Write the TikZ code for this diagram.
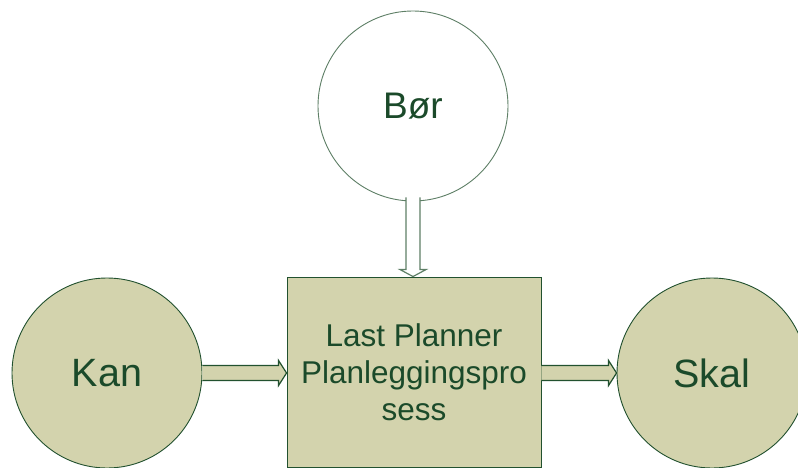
\documentclass[tikz,border=0pt]{standalone}
\usepackage{fontspec}
\setmainfont{Liberation Sans}
\usetikzlibrary{calc}
\definecolor{olivefill}{HTML}{D3D3AD}
\definecolor{darkgreen}{HTML}{22512F}
\definecolor{textgreen}{HTML}{1B4A2A}
\definecolor{greyline}{HTML}{5E7F66}
\tikzset{
  bubble/.style={circle, draw=darkgreen, line width=0.9pt, fill=olivefill, minimum size=190pt, inner sep=0pt, text=textgreen, font=\fontsize{39.5}{44}\selectfont},
  topbubble/.style={circle, draw=greyline, line width=0.9pt, fill=white, minimum size=190pt, inner sep=0pt, text=textgreen, font=\fontsize{37}{40}\selectfont},
  procbox/.style={rectangle, draw=darkgreen, line width=0.9pt, fill=olivefill, minimum width=254pt, minimum height=190pt, inner sep=0pt, align=center, text=textgreen, font=\fontsize{31.5}{37}\selectfont},
  fatarrow/.style={draw=darkgreen, line width=1.2pt, fill=olivefill, line join=miter},
  whitearrow/.style={draw=greyline, line width=1.2pt, fill=white, line join=miter}
}
\begin{document}
\begin{tikzpicture}[x=1pt, y=-1pt]
\useasboundingbox (0,0) rectangle (798,468);
\clip (0,0) rectangle (798,468);
\node[topbubble] (bor) at (413,106) {Bør};
\node[bubble] (kan) at (107,373) {Kan};
\node[bubble] (skal) at (712,373) {Skal};
\node[procbox] (box) at (414,372) {Last Planner\\Planleggingspro\\sess};
% left arrow Kan -> box
\draw[fatarrow] ($(kan.east)+(0,-7.5)$) -- ($(box.west|-kan.east)+(-8,-7.5)$) -- ($(box.west|-kan.east)+(-8,-12.5)$)
  -- (box.west|-kan.east) -- ($(box.west|-kan.east)+(-8,12.5)$) -- ($(box.west|-kan.east)+(-8,7.5)$)
  -- ($(kan.east)+(0,7.5)$);
% right arrow box -> Skal
\draw[fatarrow] ($(box.east|-skal.west)+(0,-7.5)$) -- ($(skal.west)+(-8,-7.5)$) -- ($(skal.west)+(-8,-12.5)$)
  -- (skal.west) -- ($(skal.west)+(-8,12.5)$) -- ($(skal.west)+(-8,7.5)$)
  -- ($(box.east|-skal.west)+(0,7.5)$);
% down arrow Bør -> box
\draw[whitearrow] ($(bor.south)+(-7,-4)$) -- ($(bor.south|-box.north)+(-7,-7)$) -- ($(bor.south|-box.north)+(-13,-7)$)
  -- (bor.south|-box.north) -- ($(bor.south|-box.north)+(13,-7)$) -- ($(bor.south|-box.north)+(7,-7)$)
  -- ($(bor.south)+(7,-4)$);
\end{tikzpicture}
\end{document}
